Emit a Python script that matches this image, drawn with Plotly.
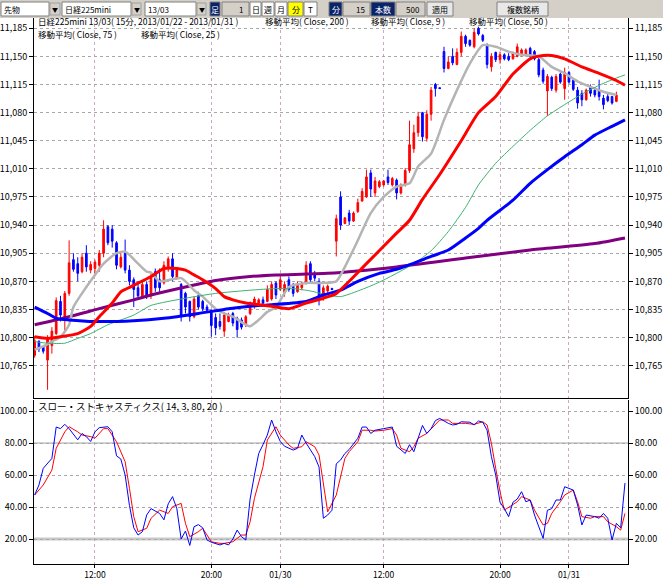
import plotly.graph_objects as go

# ---------------- data ----------------
bar_index = list(range(136))
open_p = [10778, 10795, 10788, 10772, 10790, 10805, 10845, 10825, 10855, 10897,
          10892, 10882, 10905, 10884, 10886, 10890, 10905, 10938, 10935, 10918,
          10888, 10905, 10884, 10872, 10862, 10852, 10866, 10852, 10882, 10872,
          10868, 10886, 10898, 10874, 10866, 10855, 10845, 10826, 10852, 10845,
          10838, 10834, 10825, 10820, 10808, 10820, 10830, 10824, 10822, 10816,
          10830, 10840, 10843, 10847, 10845, 10848, 10868, 10860, 10856, 10872,
          10865, 10857, 10862, 10868, 10892, 10880, 10870, 10848, 10858, 10861,
          10920, 10975, 10942, 10955, 10945, 10957, 10970, 10975, 11005, 10980,
          10988, 10990, 11000, 10990, 10996, 10980, 10990, 11008, 11035, 11055,
          11080, 11048, 11078, 11115, 11111, 11156, 11135, 11150, 11140, 11155,
          11175, 11170, 11162, 11185, 11176, 11165, 11137, 11155, 11146, 11152,
          11150, 11147, 11150, 11152, 11152, 11160, 11156, 11146, 11133, 11107,
          11124, 11108, 11128, 11110, 11130, 11120, 11108, 11104, 11096, 11112,
          11108, 11108, 11098, 11100, 11100, 11094]
high_p = [10802, 10797, 10790, 10803, 10813, 10850, 10852, 10858, 10921, 10905,
          10900, 10905, 10915, 10895, 10897, 10909, 10946, 10940, 10940, 10920,
          10905, 10922, 10890, 10875, 10870, 10870, 10870, 10880, 10886, 10886,
          10895, 10901, 10905, 10888, 10868, 10857, 10846, 10851, 10857, 10847,
          10841, 10835, 10830, 10830, 10832, 10831, 10832, 10826, 10825, 10828,
          10845, 10851, 10849, 10851, 10865, 10870, 10870, 10876, 10870, 10876,
          10868, 10870, 10870, 10895, 10895, 10883, 10874, 10865, 10866, 10862,
          10953, 10982, 10950, 10959, 10957, 10973, 10986, 11009, 11009, 11000,
          10996, 10996, 11009, 11000, 10998, 10992, 11011, 11070, 11065, 11081,
          11081, 11083, 11112, 11117, 11111, 11162, 11150, 11160, 11160, 11181,
          11177, 11171, 11185, 11187, 11178, 11166, 11154, 11156, 11156, 11154,
          11154, 11156, 11166, 11160, 11160, 11162, 11158, 11148, 11136, 11128,
          11126, 11128, 11130, 11136, 11132, 11123, 11112, 11108, 11110, 11115,
          11112, 11121, 11102, 11104, 11101, 11106]
low_p = [10775, 10782, 10780, 10735, 10780, 10803, 10820, 10808, 10852, 10882,
         10870, 10880, 10882, 10880, 10878, 10882, 10900, 10915, 10912, 10885,
         10886, 10880, 10865, 10838, 10848, 10850, 10848, 10848, 10857, 10857,
         10866, 10882, 10870, 10872, 10820, 10830, 10820, 10824, 10835, 10833,
         10832, 10801, 10803, 10810, 10801, 10819, 10814, 10800, 10810, 10813,
         10828, 10836, 10838, 10840, 10844, 10846, 10848, 10858, 10851, 10857,
         10851, 10856, 10859, 10866, 10868, 10870, 10840, 10846, 10855, 10859,
         10901, 10934, 10941, 10940, 10944, 10955, 10969, 10974, 10975, 10975,
         10986, 10988, 10990, 10988, 10972, 10978, 10988, 11005, 11030, 11050,
         11044, 11044, 11070, 11100, 11110, 11130, 11134, 11139, 11139, 11150,
         11162, 11162, 11160, 11176, 11168, 11135, 11131, 11143, 11141, 11145,
         11144, 11146, 11149, 11150, 11150, 11148, 11145, 11124, 11116, 11076,
         11107, 11105, 11116, 11096, 11116, 11107, 11085, 11088, 11095, 11100,
         11099, 11095, 11084, 11093, 11090, 11093]
close_p = [10796, 10786, 10783, 10798, 10808, 10846, 10828, 10855, 10893, 10885,
           10880, 10900, 10888, 10891, 10894, 10905, 10935, 10918, 10920, 10890,
           10900, 10884, 10870, 10860, 10852, 10866, 10852, 10876, 10862, 10862,
           10890, 10898, 10876, 10884, 10828, 10838, 10826, 10848, 10838, 10836,
           10834, 10815, 10812, 10814, 10828, 10828, 10818, 10810, 10813, 10826,
           10842, 10848, 10847, 10843, 10860, 10866, 10853, 10872, 10866, 10860,
           10855, 10867, 10868, 10890, 10872, 10874, 10848, 10862, 10864, 10860,
           10948, 10940, 10949, 10945, 10955, 10968, 10982, 11000, 10985, 10995,
           10994, 10995, 10993, 10998, 10980, 10990, 11008, 11040, 11055, 11075,
           11050, 11078, 11108, 11110, 11110, 11135, 11143, 11142, 11155, 11175,
           11166, 11164, 11180, 11178, 11170, 11140, 11150, 11146, 11152, 11147,
           11146, 11154, 11162, 11158, 11158, 11150, 11147, 11127, 11119, 11125,
           11110, 11125, 11118, 11130, 11118, 11109, 11092, 11096, 11108, 11104,
           11102, 11100, 11090, 11095, 11092, 11102]

# moving averages (sampled along each line)
ma200_idx = [0, 8, 15, 23, 27, 35, 42, 50, 56, 68, 84, 100, 115, 130, 137]
ma200_val = [10816, 10826, 10836, 10847, 10853, 10863, 10871, 10876, 10878, 10880,
             10888, 10899, 10909, 10917, 10924]
ma9_idx = [0, 2, 4, 6, 8, 9, 12, 14, 16, 19, 21, 22, 24, 26, 27, 29, 34, 37, 39, 42,
           44, 46, 49, 50, 52, 54, 56, 59, 63, 67, 70, 72, 75, 78, 81, 84, 87, 89, 92,
           95, 98, 101, 104, 107, 110, 113, 117, 120, 123, 126, 129, 132, 135]
ma9_val = [10785, 10789, 10795, 10801, 10816, 10838, 10863, 10878, 10892, 10905,
           10907, 10903, 10892, 10882, 10881, 10870, 10874, 10859, 10851, 10836,
           10830, 10826, 10816, 10814, 10822, 10832, 10838, 10863, 10868, 10868,
           10870, 10888, 10921, 10955, 10975, 10988, 10992, 11013, 11029, 11071,
           11108, 11141, 11164, 11162, 11156, 11152, 11150, 11137, 11129, 11119,
           11112, 11106, 11102]
ma50_idx = [0, 3, 5, 8, 14, 23, 30, 38, 45, 50, 55, 63, 67, 71, 75, 80, 84, 92, 96,
            100, 103, 105, 111, 115, 119, 123, 127, 130, 134, 137]
ma50_val = [10838, 10830, 10824, 10822, 10820, 10821, 10824, 10830, 10836, 10839,
            10841, 10845, 10853, 10859, 10870, 10880, 10885, 10901, 10909, 10924,
            10936, 10946, 10971, 10992, 11009, 11025, 11040, 11052, 11063, 11071]
ma75_idx = [0, 3, 7, 10, 13, 17, 20, 23, 27, 35, 42, 50, 56, 60, 64, 68, 71, 76, 80,
            84, 88, 92, 96, 100, 103, 107, 111, 115, 119, 123, 127, 131, 134, 137]
ma75_val = [10795, 10793, 10793, 10799, 10805, 10816, 10822, 10828, 10840, 10849,
            10855, 10859, 10861, 10861, 10858, 10853, 10851, 10860, 10869, 10880,
            10892, 10908, 10932, 10962, 10990, 11017, 11038, 11058, 11076, 11090,
            11103, 11114, 11121, 11127]
ma25_idx = [0, 3, 6, 10, 13, 15, 18, 20, 23, 27, 30, 33, 35, 37, 39, 42, 44, 46, 49,
            52, 55, 59, 63, 67, 70, 77, 84, 87, 90, 94, 99, 103, 107, 111, 115, 118,
            120, 123, 127, 131, 135, 137]
ma25_val = [10801, 10799, 10801, 10805, 10814, 10826, 10843, 10857, 10865, 10876,
            10886, 10886, 10884, 10878, 10872, 10861, 10851, 10847, 10843, 10841,
            10839, 10836, 10843, 10849, 10855, 10892, 10930, 10946, 10972, 11003,
            11045, 11080, 11100, 11128, 11147, 11151, 11151, 11147, 11137, 11129,
            11120, 11114]

# slow stochastics
stoch_k_idx = [0, 1, 2, 4, 5, 6, 7, 8, 10, 11, 12, 13, 14, 15, 17, 18, 19, 20, 21, 22,
               23, 24, 25, 26, 27, 29, 30, 31, 32, 33, 34, 35, 36, 37, 38, 39, 40, 41,
               43, 44, 45, 46, 47, 48, 49, 50, 51, 52, 53, 54, 55, 56, 57, 58, 60, 61,
               62, 63, 65, 66, 67, 68, 69, 70, 71, 72, 73, 75, 76, 77, 78, 79, 81, 83,
               84, 86, 87, 88, 89, 90, 91, 92, 93, 94, 96, 97, 98, 99, 101, 102, 103,
               104, 105, 106, 107, 108, 109, 110, 111, 112, 113, 114, 115, 116, 118,
               119, 120, 121, 122, 123, 125, 126, 127, 128, 130, 131, 132, 133, 134,
               135, 136, 137]
stoch_k = [47.5, 53.8, 64.2, 70.4, 90.0, 89.0, 91.7, 89.0, 82.0, 86.0, 84.0, 81.0,
           87.0, 89.6, 90.2, 87.0, 72.0, 70.0, 60.0, 41.0, 27.0, 22.5, 24.6, 35.0,
           39.0, 36.0, 32.0, 42.0, 46.5, 39.0, 20.0, 25.0, 16.0, 27.7, 29.0, 27.0,
           19.4, 18.0, 16.3, 17.3, 16.3, 20.0, 25.6, 21.5, 19.4, 45.0, 60.0, 73.5,
           79.0, 85.0, 94.4, 87.0, 81.0, 78.0, 75.6, 76.7, 85.0, 80.0, 71.5, 65.0,
           33.0, 35.0, 38.0, 67.0, 69.4, 73.5, 76.0, 83.0, 90.0, 90.0, 86.0, 88.0,
           89.0, 90.0, 78.0, 73.5, 79.0, 74.6, 83.0, 91.0, 86.0, 89.0, 94.0, 95.4,
           92.3, 91.3, 91.7, 93.3, 93.0, 91.3, 93.8, 93.0, 88.0, 71.5, 60.0, 43.0,
           39.0, 34.0, 43.0, 45.0, 49.6, 43.3, 44.4, 35.0, 20.4, 38.0, 39.0, 44.4,
           44.4, 52.7, 50.6, 41.3, 28.8, 35.0, 34.0, 33.0, 36.0, 33.0, 19.4, 29.8,
           27.0, 55.0]
stoch_d_idx = [0, 2, 4, 5, 7, 8, 10, 11, 13, 14, 16, 17, 19, 21, 22, 23, 24, 26, 27,
               29, 31, 32, 34, 35, 36, 38, 39, 40, 41, 43, 44, 46, 48, 49, 50, 51, 53,
               54, 56, 57, 59, 60, 62, 63, 65, 66, 67, 68, 70, 72, 73, 75, 76, 78, 79,
               81, 83, 84, 85, 87, 88, 89, 91, 92, 94, 96, 97, 99, 100, 102, 104, 105,
               106, 107, 108, 109, 111, 112, 113, 114, 115, 116, 118, 119, 120, 122,
               123, 125, 126, 127, 129, 130, 132, 133, 135, 136, 137]
stoch_d = [47.5, 53.8, 63.1, 76.7, 87.0, 90.2, 87.0, 85.0, 84.0, 83.0, 89.0, 89.0,
           80.8, 68.3, 51.7, 34.0, 24.6, 26.7, 32.9, 38.1, 36.0, 40.2, 42.3, 29.8,
           21.5, 24.6, 26.7, 22.5, 18.3, 17.3, 17.3, 18.3, 22.5, 22.5, 30.8, 45.4,
           65.2, 81.9, 90.2, 85.0, 78.8, 76.7, 77.7, 80.8, 77.7, 72.5, 53.8, 37.0,
           47.5, 70.4, 74.6, 80.8, 88.0, 88.0, 87.5, 88.0, 89.0, 85.0, 76.7, 74.6,
           77.7, 83.0, 86.0, 89.0, 94.4, 94.4, 92.3, 92.3, 92.3, 91.7, 93.3, 91.3,
           79.8, 64.2, 49.6, 38.1, 41.3, 43.3, 46.5, 45.4, 44.4, 38.1, 28.8, 29.8,
           36.0, 43.3, 47.5, 50.6, 43.3, 34.0, 33.0, 34.0, 34.0, 30.8, 27.7, 25.6,
           36.0]

time_tick_idx = [14, 41, 57, 81, 108, 124]
time_tick_text = ["12:00", "20:00", "01/30", "12:00", "20:00", "01/31"]
price_ticks = [10765, 10800, 10835, 10870, 10905, 10940, 10975, 11010, 11045,
               11080, 11115, 11150, 11185]
price_tick_text = ["10,765", "10,800", "10,835", "10,870", "10,905", "10,940",
                   "10,975", "11,010", "11,045", "11,080", "11,115", "11,150", "11,185"]
stoch_ticks = [20, 40, 60, 80, 100]
stoch_tick_text = ["20.00", "40.00", "60.00", "80.00", "100.00"]

# ---------------- figure ----------------
W, H = 663, 580
ML, MR, MT, MB = 34, 35, 18, 16
PW, PH = W - ML - MR, H - MT - MB


def px_x(x):
    return (x - ML) / PW


def px_y(y):
    return (H - MB - y) / PH


FONT = "Noto Sans CJK JP, Noto Sans, sans-serif"

fig = go.Figure()

fig.add_trace(go.Candlestick(
    x=bar_index, open=open_p, high=high_p, low=low_p, close=close_p,
    increasing=dict(line=dict(color="#FF0000", width=1), fillcolor="#FF0000"),
    decreasing=dict(line=dict(color="#0000FF", width=1), fillcolor="#0000FF"),
    whiskerwidth=0, showlegend=False, hoverinfo="skip", xaxis="x", yaxis="y"))

for xs, ys, col, w in [
    (ma200_idx, ma200_val, "#800080", 3),
    (ma9_idx, ma9_val, "#B4B4B4", 2.5),
    (ma75_idx, ma75_val, "#3CB371", 1),
    (ma50_idx, ma50_val, "#0000FF", 3),
    (ma25_idx, ma25_val, "#FF0000", 3),
]:
    fig.add_trace(go.Scatter(x=xs, y=ys, mode="lines",
                             line=dict(color=col, width=w, shape="spline", smoothing=0.6),
                             showlegend=False, hoverinfo="skip", xaxis="x", yaxis="y"))

# dummy traces so the right-hand axes are drawn
fig.add_trace(go.Scatter(x=[0], y=[11000], mode="lines", showlegend=False,
                         hoverinfo="skip", xaxis="x", yaxis="y3"))
fig.add_trace(go.Scatter(x=[0], y=[50], mode="lines", showlegend=False,
                         hoverinfo="skip", xaxis="x2", yaxis="y4"))

fig.add_trace(go.Scatter(x=stoch_d_idx, y=stoch_d, mode="lines",
                         line=dict(color="#FF0000", width=1),
                         showlegend=False, hoverinfo="skip", xaxis="x2", yaxis="y2"))
fig.add_trace(go.Scatter(x=stoch_k_idx, y=stoch_k, mode="lines",
                         line=dict(color="#0000FF", width=1),
                         showlegend=False, hoverinfo="skip", xaxis="x2", yaxis="y2"))

xr = [-0.15, 137.7]
price_rng = [10724.8, 11197.8]
stoch_rng = [4.4, 106.9]
tickfont = dict(family=FONT, size=9, color="#000000")
vgrid = dict(showgrid=True, gridcolor="#C4A8C4", griddash="dot", gridwidth=1)
hgrid = dict(showgrid=True, gridcolor="#A8A8A8", griddash="dot", gridwidth=1)

price_dom = [px_y(398), 1]
stoch_dom = [0, px_y(400)]

fig.update_layout(
    width=W, height=H,
    margin=dict(l=ML, r=MR, t=MT, b=MB, autoexpand=False),
    paper_bgcolor="#FFFFFF", plot_bgcolor="#FFFFFF",
    font=dict(family=FONT, size=9, color="#000000"),
    showlegend=False, boxgap=0.45,
    xaxis=dict(domain=[0, 1], anchor="y", range=xr, tickvals=time_tick_idx,
               showticklabels=False, ticks="", zeroline=False, automargin=False,
               rangeslider=dict(visible=False), showline=True,
               linecolor="#000000", linewidth=1, **vgrid),
    xaxis2=dict(domain=[0, 1], anchor="y2", range=xr, matches="x",
                tickvals=time_tick_idx, ticktext=time_tick_text, ticks="outside",
                ticklen=3, tickcolor="#000000",
                tickfont=dict(family=FONT, size=8.5, color="#000000"), zeroline=False,
                automargin=False, showline=True, linecolor="#000000", linewidth=1,
                **vgrid),
    yaxis=dict(domain=price_dom, range=price_rng, tickvals=price_ticks,
               ticktext=price_tick_text, ticks="outside", ticklen=4,
               tickcolor="#000000", tickfont=tickfont, showline=True, automargin=False,
               linecolor="#000000", zeroline=False, **hgrid),
    yaxis3=dict(overlaying="y", side="right", range=price_rng, tickvals=price_ticks,
                ticktext=price_tick_text, ticks="outside", ticklen=4, automargin=False,
                tickcolor="#000000", tickfont=tickfont, showline=True,
                linecolor="#000000", showgrid=False, zeroline=False),
    yaxis2=dict(domain=stoch_dom, anchor="x2", range=stoch_rng, tickvals=stoch_ticks,
                ticktext=stoch_tick_text, ticks="outside", ticklen=4, automargin=False,
                tickcolor="#000000", tickfont=tickfont, showline=True,
                linecolor="#000000", zeroline=False, **hgrid),
    yaxis4=dict(overlaying="y2", side="right", anchor="x2", range=stoch_rng,
                tickvals=stoch_ticks, ticktext=stoch_tick_text, ticks="outside",
                ticklen=4, tickcolor="#000000", tickfont=tickfont, showline=True,
                automargin=False, linecolor="#000000", showgrid=False, zeroline=False),
)

shapes = []
# stochastic reference levels
shapes.append(dict(type="line", xref="x2 domain", yref="y2", x0=0, x1=1, y0=80, y1=80,
                   line=dict(color="#A0A0A0", width=1), layer="below"))
shapes.append(dict(type="line", xref="x2 domain", yref="y2", x0=0, x1=1, y0=20, y1=20,
                   line=dict(color="#C8C8C8", width=3), layer="below"))

# toolbar
shapes.append(dict(type="rect", xref="paper", yref="paper", x0=px_x(0), x1=px_x(W),
                   y0=px_y(18), y1=px_y(0), fillcolor="#D4D0C8", line=dict(width=0),
                   layer="above"))

annotations = []


def box(x0, x1, y0, y1, fill, text=None, tcol="#000000", edge="#808080", size=8):
    shapes.append(dict(type="rect", xref="paper", yref="paper", x0=px_x(x0),
                       x1=px_x(x1), y0=px_y(y1), y1=px_y(y0), fillcolor=fill,
                       line=dict(color=edge, width=1), layer="above"))
    if text:
        annotations.append(dict(xref="paper", yref="paper", x=px_x((x0 + x1) / 2),
                                y=px_y((y0 + y1) / 2), text=text, showarrow=False,
                                xanchor="center", yanchor="middle", borderpad=0,
                                font=dict(family=FONT, size=size, color=tcol)))


def label(x, y, text, size=8, anchor="left", col="#000000", va="middle"):
    annotations.append(dict(xref="paper", yref="paper", x=px_x(x), y=px_y(y),
                            text=text, showarrow=False, xanchor=anchor,
                            yanchor=va, borderpad=0,
                            font=dict(family=FONT, size=size, color=col)))


box(1, 49, 2, 16, "#FFFFFF")
label(3, 9, "先物")
box(50, 60, 3, 15, "#D4D0C8", "▼", edge="#A0A0A0", size=6)
box(62, 131, 2, 16, "#FFFFFF")
label(64, 9, "日経225mini")
box(132, 141, 3, 15, "#D4D0C8", "▼", edge="#A0A0A0", size=6)
box(145, 196, 2, 16, "#FFFFFF")
label(147, 9, "13/03")
box(197, 206, 3, 15, "#D4D0C8", "▼", edge="#A0A0A0", size=6)
box(210, 220, 2, 16, "#0A246A", "足", tcol="#FFFFFF")
box(222, 249, 2, 16, "#D4D0C8")
label(244, 9, "1", anchor="right")
box(250, 261, 2, 16, "#FFFFFF", "日")
box(262, 274, 2, 16, "#FFFFFF", "週")
box(275, 287, 2, 16, "#FFFFFF", "月")
box(288, 303, 2, 16, "#FFFF00", "分")
box(304, 317, 2, 16, "#FFFFFF", "T")
box(329, 342, 2, 16, "#0A246A", "分", tcol="#FFFFFF")
box(343, 370, 2, 16, "#D4D0C8")
label(366, 9, "15", anchor="right")
box(371, 395, 2, 16, "#0A246A", "本数", tcol="#FFFFFF")
box(396, 425, 2, 16, "#D4D0C8")
label(421, 9, "500", anchor="right")
box(427, 453, 2, 16, "#E8E8E8", "適用")
box(497, 548, 2, 16, "#E8E8E8", "複数銘柄")

# chart headers
label(37, 21.4, "日経225mini 13/03( 15分, 2013/01/22 - 2013/01/31 )", size=8.5)
label(264, 21.4, "移動平均( Close, 200 )", size=8.5)
label(370, 21.4, "移動平均( Close, 9 )", size=8.5)
label(468, 21.4, "移動平均( Close, 50 )", size=8.5)
label(37, 33.7, "移動平均( Close, 75 )", size=8.5)
label(140, 33.7, "移動平均( Close, 25 )", size=8.5)
label(37, 406, "スロー・ストキャスティクス( 14, 3, 80, 20 )", size=9.5)

fig.update_layout(shapes=shapes, annotations=annotations)

fig.write_html("out.html")
